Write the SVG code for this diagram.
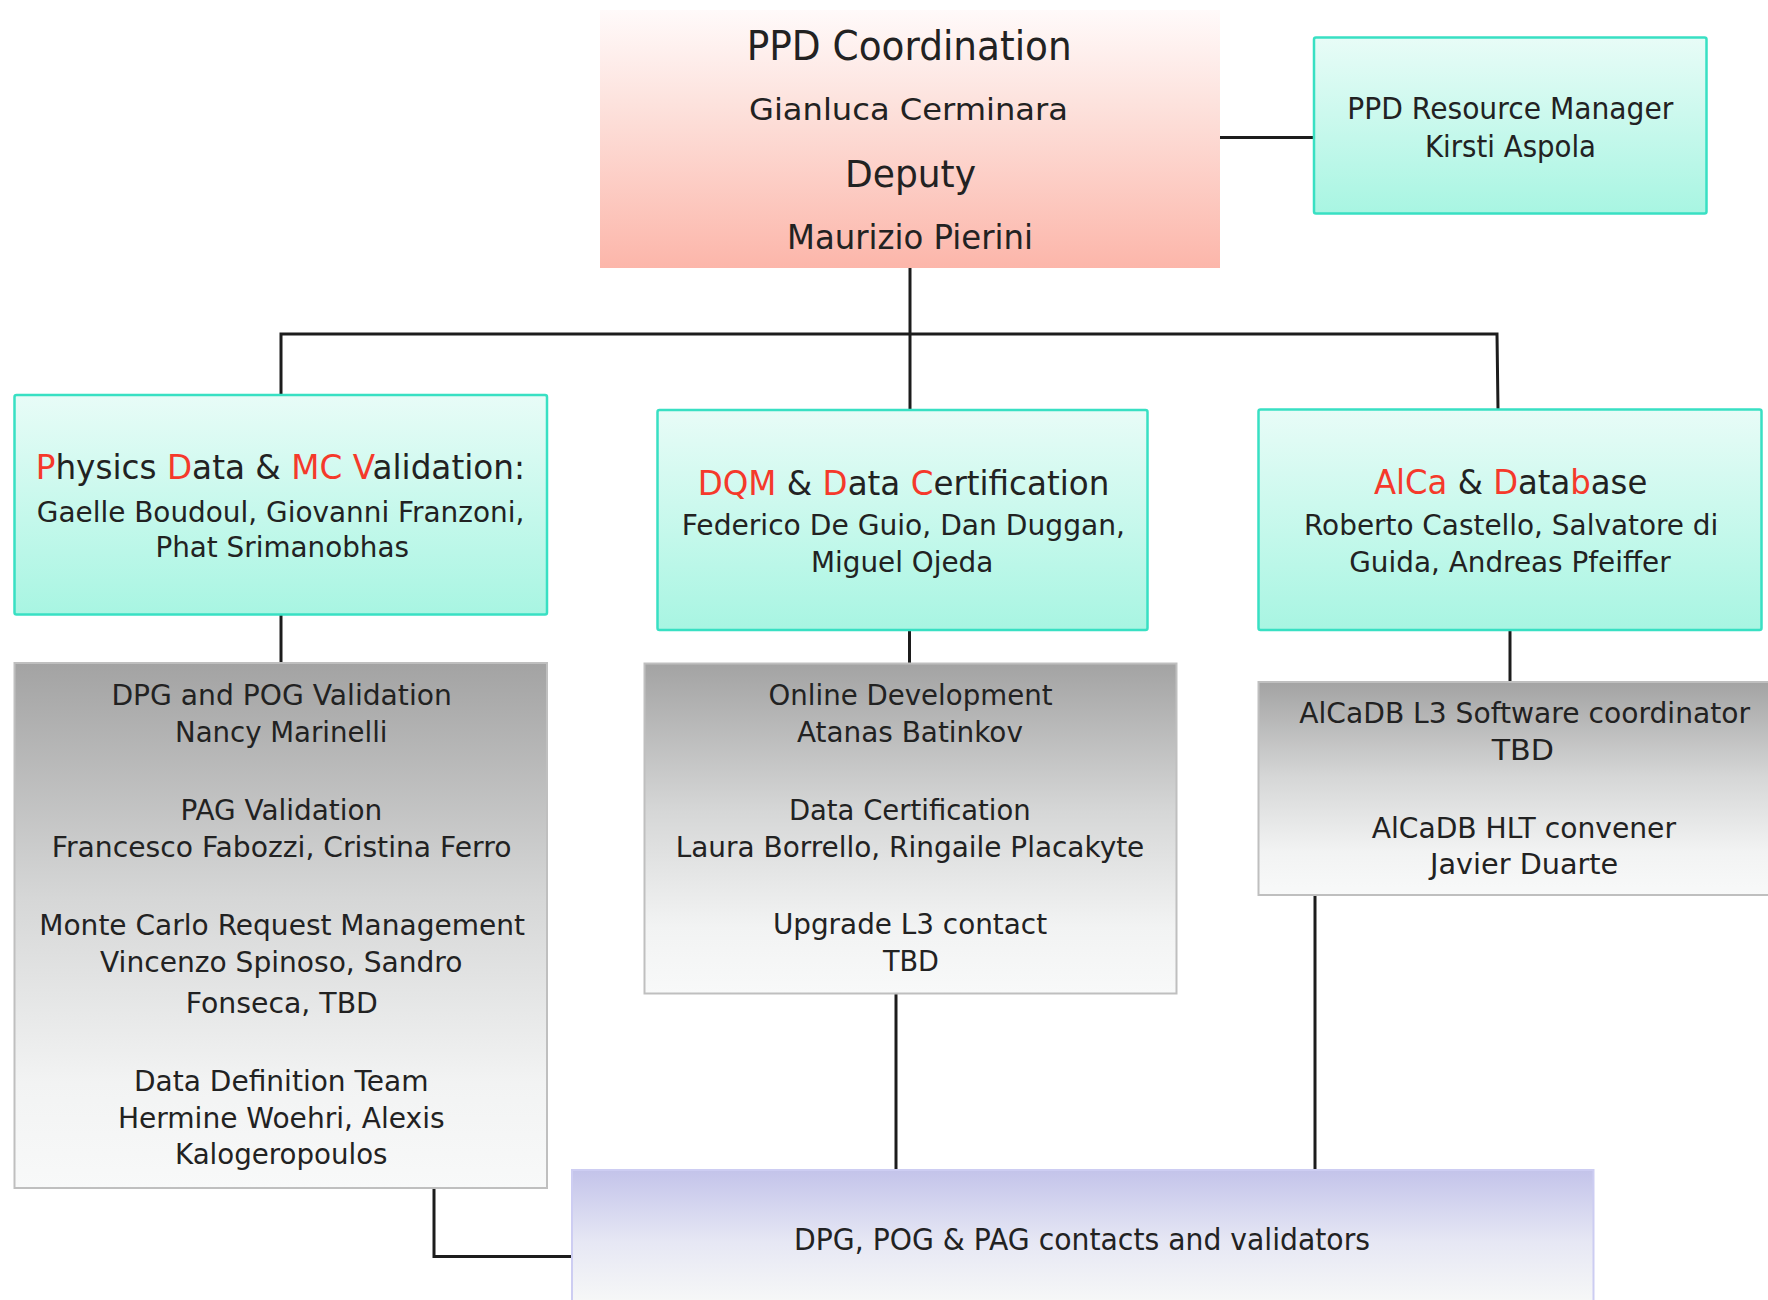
<svg xmlns="http://www.w3.org/2000/svg" width="1768" height="1300" viewBox="0 0 1768 1300">
  <defs>
    <linearGradient id="gSalmon" x1="0" y1="0" x2="0" y2="1">
      <stop offset="0" stop-color="#fffafa"/>
      <stop offset="0.35" stop-color="#fde3de"/>
      <stop offset="1" stop-color="#fcb6aa"/>
    </linearGradient>
    <linearGradient id="gTeal" x1="0" y1="0" x2="0" y2="1">
      <stop offset="0" stop-color="#e8fcf7"/>
      <stop offset="1" stop-color="#a8f5e2"/>
    </linearGradient>
    <linearGradient id="gGray" x1="0" y1="0" x2="0" y2="1">
      <stop offset="0" stop-color="#a3a3a3"/>
      <stop offset="0.45" stop-color="#d6d7d7"/>
      <stop offset="0.8" stop-color="#f2f3f3"/>
      <stop offset="1" stop-color="#f8f9f9"/>
    </linearGradient>
    <linearGradient id="gLav" x1="0" y1="1170" x2="0" y2="1300" gradientUnits="userSpaceOnUse">
      <stop offset="0" stop-color="#c3c3ea"/>
      <stop offset="0.55" stop-color="#e6e7f4"/>
      <stop offset="1" stop-color="#f6f7f7"/>
    </linearGradient>
  </defs>
  <style>
    text { font-family: "DejaVu Sans", "Liberation Sans", sans-serif; fill: #222; }
    .r { fill: #f5392b; }
    .teal { fill: url(#gTeal); stroke: #38e0c3; stroke-width: 2.5; }
    .gray { fill: url(#gGray); stroke: #bfbfbf; stroke-width: 2; }
    .wire { fill: none; stroke: #1c1c1c; stroke-width: 3; }
  </style>
  <rect width="1768" height="1300" fill="#ffffff"/>

  <!-- connectors -->
  <g id="connectors">
    <path class="wire" d="M1220 137.5 H1314"/>
    <path class="wire" d="M910 268 V410"/>
    <path class="wire" d="M281 395 V334 H1497 L1498 409"/>
    <path class="wire" d="M281 614 V663"/>
    <path class="wire" d="M909.5 630 V663"/>
    <path class="wire" d="M1510 630 V682"/>
    <path class="wire" d="M434 1188 V1256.5 H572"/>
    <path class="wire" d="M896 993 V1170"/>
    <path class="wire" d="M1315 895 V1170"/>
  </g>

  <!-- top coordination box -->
  <g id="coordination">
    <rect x="600" y="10" width="620" height="258" fill="url(#gSalmon)"/>
    <text x="746.7" y="60" font-size="41" textLength="325" lengthAdjust="spacingAndGlyphs">PPD Coordination</text>
    <text x="749" y="120" font-size="31" textLength="319" lengthAdjust="spacingAndGlyphs">Gianluca Cerminara</text>
    <text x="845" y="187" font-size="37" textLength="131" lengthAdjust="spacingAndGlyphs">Deputy</text>
    <text x="787" y="249" font-size="33" textLength="246" lengthAdjust="spacingAndGlyphs">Maurizio Pierini</text>
  </g>

  <!-- resource manager -->
  <g id="resource-manager">
    <rect class="teal" x="1314" y="37.5" width="392.5" height="176" rx="2"/>
    <text x="1347.3" y="119.3" font-size="30" textLength="326" lengthAdjust="spacingAndGlyphs">PPD Resource Manager</text>
    <text x="1425" y="156.7" font-size="30" textLength="171" lengthAdjust="spacingAndGlyphs">Kirsti Aspola</text>
  </g>

  <!-- physics data & MC validation -->
  <g id="physics-validation">
    <rect class="teal" x="14.5" y="395" width="532.5" height="219.5" rx="2"/>
    <text x="35.7" y="478.5" font-size="33" textLength="489.3" lengthAdjust="spacingAndGlyphs"><tspan class="r">P</tspan>hysics <tspan class="r">D</tspan>ata &amp; <tspan class="r">MC</tspan> <tspan class="r">V</tspan>alidation:</text>
    <text x="36.8" y="522" font-size="29" textLength="487.5" lengthAdjust="spacingAndGlyphs">Gaelle Boudoul, Giovanni Franzoni,</text>
    <text x="155.4" y="557" font-size="28.5" textLength="253.6" lengthAdjust="spacingAndGlyphs">Phat Srimanobhas</text>
  </g>

  <!-- DQM & data certification -->
  <g id="dqm-certification">
    <rect class="teal" x="657.5" y="410" width="490" height="220" rx="2"/>
    <text x="697.7" y="495" font-size="34" textLength="411.6" lengthAdjust="spacingAndGlyphs"><tspan class="r">DQM</tspan> &amp; <tspan class="r">D</tspan>ata <tspan class="r">C</tspan>ertification</text>
    <text x="681.7" y="535" font-size="29" textLength="443.3" lengthAdjust="spacingAndGlyphs">Federico De Guio, Dan Duggan,</text>
    <text x="811" y="571.7" font-size="29" textLength="182.3" lengthAdjust="spacingAndGlyphs">Miguel Ojeda</text>
  </g>

  <!-- AlCa & database -->
  <g id="alca-database">
    <rect class="teal" x="1258.5" y="409.5" width="503" height="220.5" rx="2"/>
    <text x="1374" y="494.3" font-size="34" textLength="273.3" lengthAdjust="spacingAndGlyphs"><tspan class="r">AlCa</tspan> &amp; <tspan class="r">D</tspan>ata<tspan class="r">b</tspan>ase</text>
    <text x="1304" y="535" font-size="29" textLength="414.3" lengthAdjust="spacingAndGlyphs">Roberto Castello, Salvatore di</text>
    <text x="1349.3" y="571.7" font-size="29" textLength="321.4" lengthAdjust="spacingAndGlyphs">Guida, Andreas Pfeiffer</text>
  </g>

  <!-- validation sub-groups -->
  <g id="validation-groups">
    <rect class="gray" x="14.5" y="663" width="532.5" height="525"/>
    <text x="111.4" y="705" font-size="28" textLength="340.4" lengthAdjust="spacingAndGlyphs">DPG and POG Validation</text>
    <text x="175" y="742.4" font-size="28" textLength="212.5" lengthAdjust="spacingAndGlyphs">Nancy Marinelli</text>
    <text x="180.4" y="820.2" font-size="28" textLength="201.8" lengthAdjust="spacingAndGlyphs">PAG Validation</text>
    <text x="51.8" y="857.1" font-size="28" textLength="459.6" lengthAdjust="spacingAndGlyphs">Francesco Fabozzi, Cristina Ferro</text>
    <text x="39.3" y="935.2" font-size="28" textLength="485.7" lengthAdjust="spacingAndGlyphs">Monte Carlo Request Management</text>
    <text x="100" y="972.1" font-size="28" textLength="362.5" lengthAdjust="spacingAndGlyphs">Vincenzo Spinoso, Sandro</text>
    <text x="185.7" y="1012.5" font-size="28" textLength="192.2" lengthAdjust="spacingAndGlyphs">Fonseca, TBD</text>
    <text x="134" y="1090.6" font-size="28" textLength="294.6" lengthAdjust="spacingAndGlyphs">Data Definition Team</text>
    <text x="117.9" y="1127.6" font-size="28" textLength="326.7" lengthAdjust="spacingAndGlyphs">Hermine Woehri, Alexis</text>
    <text x="175" y="1163.8" font-size="28" textLength="212.5" lengthAdjust="spacingAndGlyphs">Kalogeropoulos</text>
  </g>

  <!-- DQM sub-groups -->
  <g id="dqm-groups">
    <rect class="gray" x="644.5" y="663.5" width="532" height="330"/>
    <text x="768.6" y="705" font-size="28" textLength="283.9" lengthAdjust="spacingAndGlyphs">Online Development</text>
    <text x="797" y="741.7" font-size="28" textLength="225.9" lengthAdjust="spacingAndGlyphs">Atanas Batinkov</text>
    <text x="788.9" y="820" font-size="28" textLength="241.8" lengthAdjust="spacingAndGlyphs">Data Certification</text>
    <text x="675.7" y="856.7" font-size="28" textLength="468.6" lengthAdjust="spacingAndGlyphs">Laura Borrello, Ringaile Placakyte</text>
    <text x="772.9" y="934" font-size="28" textLength="274.2" lengthAdjust="spacingAndGlyphs">Upgrade L3 contact</text>
    <text x="882.9" y="970.7" font-size="28" textLength="56" lengthAdjust="spacingAndGlyphs">TBD</text>
  </g>

  <!-- AlCaDB sub-groups -->
  <g id="alcadb-groups">
    <rect class="gray" x="1258.5" y="682" width="532" height="213"/>
    <text x="1299.3" y="723.3" font-size="28" textLength="450.7" lengthAdjust="spacingAndGlyphs">AlCaDB L3 Software coordinator</text>
    <text x="1491.7" y="760" font-size="28" textLength="62.3" lengthAdjust="spacingAndGlyphs">TBD</text>
    <text x="1371.7" y="838.3" font-size="28" textLength="304.3" lengthAdjust="spacingAndGlyphs">AlCaDB HLT convener</text>
    <text x="1430" y="874" font-size="28" textLength="188.3" lengthAdjust="spacingAndGlyphs">Javier Duarte</text>
  </g>

  <!-- contacts and validators -->
  <g id="contacts-validators">
    <rect x="572" y="1170" width="1021.5" height="140" fill="url(#gLav)" stroke="#cdcdf2" stroke-width="2"/>
    <text x="794" y="1250" font-size="30" textLength="576" lengthAdjust="spacingAndGlyphs">DPG, POG &amp; PAG contacts and validators</text>
  </g>
</svg>
